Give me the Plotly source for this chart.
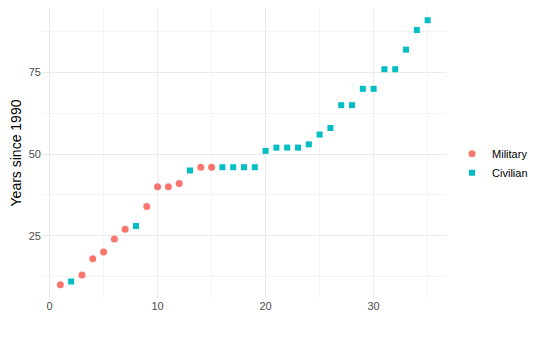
import plotly.graph_objects as go

# Data
mil_x = [1, 3, 4, 5, 6, 7, 9, 10, 11, 12, 14, 15]
mil_y = [10, 13, 18, 20, 24, 27, 34, 40, 40, 41, 46, 46]

civ_x = [2, 8, 13, 16, 17, 18, 19, 20, 21, 22, 23, 24, 25, 26, 27, 28, 29, 30, 31, 32, 33, 34, 35]
civ_y = [11, 28, 45, 46, 46, 46, 46, 51, 52, 52, 52, 53, 56, 58, 65, 65, 70, 70, 76, 76, 82, 88, 91]

_TICK_COLOR = "#4d4d4d"
_GRID_MAJOR = "#ebebeb"
_GRID_MINOR = "#f4f4f4"

fig = go.Figure()
fig.add_trace(go.Scatter(
    x=mil_x, y=mil_y, mode="markers", name="Military",
    marker={"symbol": "circle", "size": 7, "color": "#F8766D"},
))
fig.add_trace(go.Scatter(
    x=civ_x, y=civ_y, mode="markers", name="Civilian",
    marker={"symbol": "square", "size": 6, "color": "#00BFC4"},
))

# the page body keeps its default 8px margin, so the figure is sized to fit
# inside the window after that offset
fig.update_layout(
    width=532, height=330,
    margin={"l": 34, "r": 94, "t": 0, "b": 40, "autoexpand": False},
    paper_bgcolor="white",
    plot_bgcolor="white",
    font={"family": "Liberation Sans, Arial, sans-serif", "color": "black"},
    legend={
        "x": 1.015, "xanchor": "left", "y": 0.465, "yanchor": "middle",
        "font": {"size": 11, "color": "black"},
        "itemwidth": 30, "tracegroupgap": 0,
    },
    xaxis={
        "range": [-0.7, 36.7],
        "tickvals": [0, 10, 20, 30],
        "tickfont": {"size": 11, "color": _TICK_COLOR},
        "showgrid": True, "gridcolor": _GRID_MAJOR, "gridwidth": 1.2,
        "minor": {"tickvals": [5, 15, 25, 35], "showgrid": True, "gridcolor": _GRID_MINOR, "gridwidth": 0.8},
        "zeroline": False, "showline": False, "ticks": "", "automargin": False,
    },
    yaxis={
        "range": [5.95, 94.75],
        "tickvals": [25, 50, 75],
        "tickfont": {"size": 11, "color": _TICK_COLOR},
        "title": {"text": "Years since 1990", "font": {"size": 14, "color": "black"}, "standoff": 4},
        "showgrid": True, "gridcolor": _GRID_MAJOR, "gridwidth": 1.2,
        "minor": {"tickvals": [12.5, 37.5, 62.5, 87.5], "showgrid": True, "gridcolor": _GRID_MINOR, "gridwidth": 0.8},
        "zeroline": False, "showline": False, "ticks": "", "automargin": False,
    },
)

fig.write_html("out.html")
